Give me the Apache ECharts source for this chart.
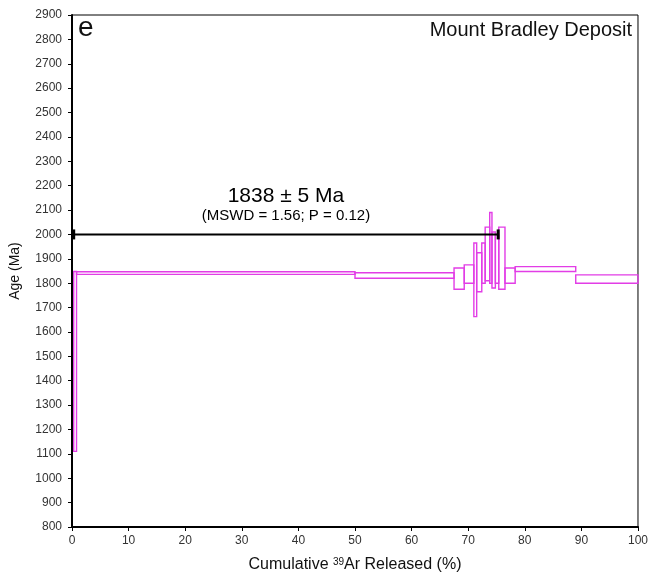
<!DOCTYPE html>
<html>
<head>
<meta charset="utf-8">
<script src="https://cdn.jsdelivr.net/npm/echarts@6/dist/echarts.min.js"></script>
<style>html,body{margin:0;padding:0;background:#fff}#c{width:651px;height:580px}</style>
</head>
<body>
<div id="c"></div>
<script>
// Step heating data: cumulative 39Ar (%) start/end and age lower/upper bounds (Ma)
var stepStart = [0.3, 0.8, 50, 67.5, 69.3, 71.0, 71.5, 72.4, 73.0, 73.8, 74.2, 74.8, 75.4, 76.5, 78.3, 89];
var stepEnd   = [0.8, 50, 67.5, 69.3, 71.0, 71.5, 72.4, 73.0, 73.8, 74.2, 74.8, 75.4, 76.5, 78.3, 89, 100];
var ageLow    = [1110, 1836, 1820, 1775, 1800, 1663, 1765, 1800, 1810, 1800, 1780, 1800, 1775, 1800, 1848, 1800];
var ageHigh   = [1848, 1847, 1843, 1862, 1875, 1965, 1925, 1965, 2030, 2090, 2010, 2000, 2030, 1862, 1868, 1834];
// plateau bar
var plateauX = [0.3, 75.3];
var plateauY = 2000;
var plateauText = '1838 ± 5 Ma';
var statsText = '(MSWD = 1.56; P = 0.12)';
var yTicks = {min: 800, max: 2900, interval: 100};
var xTicks = {min: 0, max: 100, interval: 10};

var boxes = stepStart.map(function (s, i) { return [s, stepEnd[i], ageLow[i], ageHigh[i]]; });
var mid = (plateauX[0] + plateauX[1]) / 2;

var chart = echarts.init(document.getElementById('c'), null, {renderer: 'canvas'});
var FONT = 'Liberation Sans, Arial, sans-serif';
chart.setOption({
  animation: false,
  backgroundColor: '#fff',
  grid: {left: 72, right: 11, top: 15, bottom: 53, show: true, borderColor: '#000', borderWidth: 1},
  xAxis: {
    type: 'value', min: xTicks.min, max: xTicks.max, interval: xTicks.interval,
    splitLine: {show: false},
    axisLine: {show: true, onZero: false, lineStyle: {color: '#000', width: 2}},
    axisTick: {show: true, inside: false, length: 4, lineStyle: {color: '#000', width: 1}},
    axisLabel: {color: '#333', fontSize: 12, fontFamily: FONT, margin: 8, formatter: function (v) { return String(v); }},
    name: '{a|Cumulative }{s|39}{a|Ar Released (%)}',
    nameLocation: 'middle', nameGap: 30,
    nameTextStyle: {rich: {a: {fontSize: 16, fontFamily: FONT, color: '#111'}, s: {fontSize: 10, fontFamily: FONT, color: '#111', verticalAlign: 'top', padding: [0, 0, 6, 0]}}}
  },
  yAxis: {
    type: 'value', min: yTicks.min, max: yTicks.max, interval: yTicks.interval,
    splitLine: {show: false},
    axisLine: {show: true, onZero: false, lineStyle: {color: '#000', width: 2}},
    axisTick: {show: true, inside: false, length: 4, lineStyle: {color: '#000', width: 1}},
    axisLabel: {color: '#333', fontSize: 12, fontFamily: FONT, margin: 10, formatter: function (v) { return String(v); }},
    name: 'Age (Ma)', nameLocation: 'middle', nameGap: 50, nameRotate: 90,
    nameTextStyle: {fontSize: 14, fontFamily: FONT, color: '#111'}
  },
  graphic: [
    {type: 'text', left: 78, top: 14, style: {text: 'e', fontSize: 28, fontFamily: FONT, fill: '#111'}},
    {type: 'text', right: 19, top: 20, style: {text: 'Mount Bradley Deposit', fontSize: 20, fontFamily: FONT, fill: '#111'}}
  ],
  series: [
    {
      type: 'custom',
      data: boxes,
      encode: {x: [0, 1], y: [2, 3]},
      renderItem: function (params, api) {
        var p1 = api.coord([api.value(0), api.value(3)]);
        var p2 = api.coord([api.value(1), api.value(2)]);
        return {
          type: 'rect',
          shape: {x: p1[0], y: p1[1], width: p2[0] - p1[0], height: p2[1] - p1[1]},
          style: {fill: 'none', stroke: '#e23de6', lineWidth: 1.4}
        };
      },
      z: 3
    },
    {
      type: 'line',
      data: plateauX.map(function (x) { return [x, plateauY]; }),
      symbol: 'rect', symbolSize: [3, 10], showSymbol: true,
      itemStyle: {color: '#000'},
      lineStyle: {color: '#000', width: 2},
      z: 4
    },
    {
      type: 'scatter',
      symbolSize: 0,
      silent: true,
      itemStyle: {opacity: 1},
      data: [
        {value: [mid, plateauY], label: {show: true, position: 'inside', formatter: plateauText, fontSize: 21, fontFamily: FONT, color: '#000', opacity: 1, offset: [0, -38]}},
        {value: [mid, plateauY], label: {show: true, position: 'inside', formatter: statsText, fontSize: 15, fontFamily: FONT, color: '#000', opacity: 1, offset: [0, -19]}}
      ],
      z: 5
    }
  ]
});
</script>
</body>
</html>
